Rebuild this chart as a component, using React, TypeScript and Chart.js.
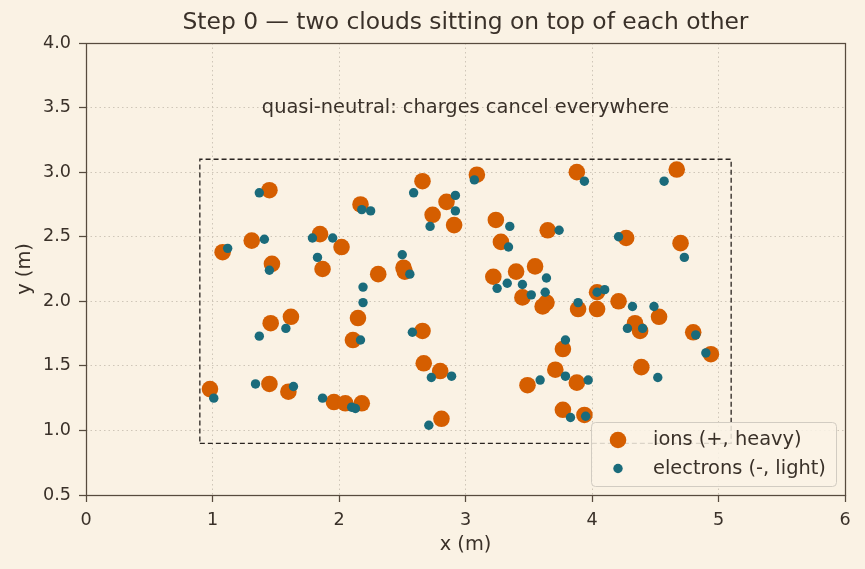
import React, { useEffect, useRef } from "react";
import { Chart, registerables } from "chart.js";

Chart.register(...registerables);

const TITLE = "Step 0 — two clouds sitting on top of each other";
const ANNOTATION = "quasi-neutral: charges cancel everywhere";
const X_LABEL = "x (m)";
const Y_LABEL = "y (m)";
const ION_LABEL = "ions (+, heavy)";
const ELECTRON_LABEL = "electrons (-, light)";

const ionX = [0.98, 1.08, 1.31, 1.45, 1.47, 1.46, 1.45, 1.60, 1.62, 1.85, 1.87, 2.02, 1.96, 2.05, 2.18, 2.11, 2.15, 2.17, 2.31, 2.51, 2.52, 2.66, 2.74, 2.85, 2.91, 2.66, 2.67, 2.80, 2.81, 3.09, 3.24, 3.28, 3.22, 3.40, 3.45, 3.55, 3.49, 3.65, 3.64, 3.61, 3.71, 3.77, 3.88, 3.89, 3.88, 3.77, 3.94, 4.04, 4.04, 4.21, 4.27, 4.34, 4.38, 4.39, 4.53, 4.67, 4.70, 4.80, 4.94];
const ionY = [1.32, 2.38, 2.47, 2.86, 2.29, 1.83, 1.36, 1.30, 1.88, 2.52, 2.25, 2.42, 1.22, 1.21, 1.21, 1.70, 1.87, 2.75, 2.21, 2.26, 2.23, 2.93, 2.67, 2.77, 2.59, 1.77, 1.52, 1.46, 1.09, 2.98, 2.63, 2.46, 2.19, 2.23, 2.03, 2.27, 1.35, 2.55, 1.99, 1.96, 1.47, 1.63, 3.00, 1.94, 1.37, 1.16, 1.12, 2.07, 1.94, 2.00, 2.49, 1.83, 1.77, 1.49, 1.88, 3.02, 2.45, 1.76, 1.59];

const electronX = [1.01, 1.12, 1.37, 1.41, 1.45, 1.37, 1.34, 1.58, 1.64, 1.79, 1.83, 1.95, 1.87, 2.10, 2.13, 2.17, 2.19, 2.19, 2.18, 2.25, 2.50, 2.56, 2.59, 2.58, 2.72, 2.92, 2.92, 2.73, 2.89, 2.71, 3.07, 3.35, 3.34, 3.25, 3.33, 3.45, 3.52, 3.63, 3.64, 3.74, 3.59, 3.79, 3.79, 3.83, 3.97, 3.95, 3.94, 3.89, 4.10, 4.04, 4.21, 4.28, 4.32, 4.40, 4.49, 4.52, 4.57, 4.73, 4.82, 4.90];
const electronY = [1.25, 2.41, 2.84, 2.48, 2.24, 1.73, 1.36, 1.79, 1.34, 2.49, 2.34, 2.49, 1.25, 1.18, 1.17, 1.70, 2.11, 1.99, 2.71, 2.70, 2.36, 2.21, 2.84, 1.76, 2.58, 2.82, 2.70, 1.41, 1.42, 1.04, 2.94, 2.58, 2.42, 2.10, 2.14, 2.13, 2.05, 2.07, 2.18, 2.55, 1.39, 1.70, 1.42, 1.10, 1.39, 1.11, 2.93, 1.99, 2.09, 2.07, 2.50, 1.79, 1.96, 1.79, 1.96, 1.41, 2.93, 2.34, 1.74, 1.60];

const boxX = [0.9, 5.1, 5.1, 0.9, 0.9];
const boxY = [0.9, 0.9, 3.1, 3.1, 0.9];

const BG = "#faf2e4";
const INK = "#3a3129";
const SPINE = "#574b3e";
const GRID = "#cfc6b8";
const ION_COLOR = "#d55e00";
const ELECTRON_COLOR = "#1a6b7b";
const FONT = "'DejaVu Sans', sans-serif";

export default function App() {
  const ref = useRef<HTMLCanvasElement | null>(null);

  useEffect(() => {
    document.body.style.margin = "0";
    document.body.style.background = BG;
    const canvas = ref.current;
    if (!canvas) return;

    const decor = {
      id: "decor",
      beforeDraw(chart: any) {
        const ctx = chart.ctx;
        ctx.save();
        ctx.fillStyle = BG;
        ctx.fillRect(0, 0, chart.width, chart.height);
        ctx.restore();
      },
      afterDraw(chart: any) {
        const ctx = chart.ctx;
        const a = chart.chartArea;
        const xs = chart.scales.x;
        const ys = chart.scales.y;
        ctx.save();
        // frame
        ctx.strokeStyle = SPINE;
        ctx.lineWidth = 1.25;
        ctx.strokeRect(Math.round(a.left) + 0.5, Math.round(a.top) + 0.5, Math.round(a.right - a.left), Math.round(a.bottom - a.top));
        // title
        ctx.fillStyle = INK;
        ctx.font = `23.4px ${FONT}`;
        ctx.textAlign = "center";
        ctx.textBaseline = "middle";
        ctx.fillText(TITLE, (a.left + a.right) / 2, 23);
        // annotation
        ctx.font = `19.4px ${FONT}`;
        ctx.fillText(ANNOTATION, xs.getPixelForValue(3), ys.getPixelForValue(3.5));
        // legend
        const lx = 591, ly = 422, lw = 245, lh = 64;
        ctx.fillStyle = "rgba(250,243,230,0.85)";
        ctx.strokeStyle = "#d2ccc2";
        ctx.lineWidth = 1;
        ctx.beginPath();
        (ctx as any).roundRect(lx + 0.5, ly + 0.5, lw, lh, 4);
        ctx.fill();
        ctx.stroke();
        ctx.fillStyle = ION_COLOR;
        ctx.beginPath();
        ctx.arc(618, 440, 8.3, 0, Math.PI * 2);
        ctx.fill();
        ctx.fillStyle = ELECTRON_COLOR;
        ctx.beginPath();
        ctx.arc(618, 468.5, 4.7, 0, Math.PI * 2);
        ctx.fill();
        ctx.fillStyle = INK;
        ctx.font = `19.4px ${FONT}`;
        ctx.textAlign = "left";
        ctx.fillText(ION_LABEL, 653, 440);
        ctx.fillText(ELECTRON_LABEL, 653, 468.5);
        ctx.restore();
      },
    };

    const chart = new Chart(canvas, {
      type: "scatter",
      data: {
        datasets: [
          {
            label: "box",
            data: boxX.map((x, i) => ({ x, y: boxY[i] })),
            showLine: true,
            borderColor: "#2a2420",
            borderWidth: 1.3,
            borderDash: [5, 3],
            pointRadius: 0,
            fill: false,
            order: 3,
          },
          {
            label: ION_LABEL,
            data: ionX.map((x, i) => ({ x, y: ionY[i] })),
            backgroundColor: ION_COLOR,
            borderWidth: 0,
            pointRadius: 8.3,
            order: 2,
          },
          {
            label: ELECTRON_LABEL,
            data: electronX.map((x, i) => ({ x, y: electronY[i] })),
            backgroundColor: ELECTRON_COLOR,
            borderWidth: 0,
            pointRadius: 4.7,
            order: 1,
          },
        ] as any,
      },
      plugins: [decor],
      options: {
        animation: false,
        responsive: false,
        maintainAspectRatio: false,
        layout: { padding: { top: 43, right: 20, bottom: 0, left: 0 } },
        plugins: {
          legend: { display: false },
          tooltip: { enabled: false },
          title: { display: false },
        },
        scales: {
          x: {
            type: "linear",
            min: 0,
            max: 6,
            afterFit: (s: any) => { s.height = 74; },
            ticks: { stepSize: 1, color: INK, font: { family: FONT, size: 17.6 }, padding: 8 },
            grid: { color: GRID, lineWidth: 1, tickLength: 7, tickColor: SPINE, tickWidth: 1.25 },
            border: { display: false, dash: [1.5, 3] },
            title: { display: true, text: X_LABEL, color: INK, font: { family: FONT, size: 19.4 }, padding: { top: 0, bottom: 12.3 } },
          },
          y: {
            type: "linear",
            min: 0.5,
            max: 4,
            afterFit: (s: any) => { s.width = 86; },
            ticks: { stepSize: 0.5, color: INK, font: { family: FONT, size: 17.6 }, padding: 8, callback: (v: any) => Number(v).toFixed(1) },
            grid: { color: GRID, lineWidth: 1, tickLength: 7, tickColor: SPINE, tickWidth: 1.25 },
            border: { display: false, dash: [1.5, 3] },
            title: { display: true, text: Y_LABEL, color: INK, font: { family: FONT, size: 19.4 }, padding: { top: 13.3, bottom: 0 } },
          },
        },
      } as any,
    });
    return () => chart.destroy();
  }, []);

  return (
    <div style={{ position: "absolute", left: 0, top: 0, width: 865, height: 569, background: BG }}>
      <canvas ref={ref} width={865} height={569} style={{ width: 865, height: 569, display: "block" }} />
    </div>
  );
}
